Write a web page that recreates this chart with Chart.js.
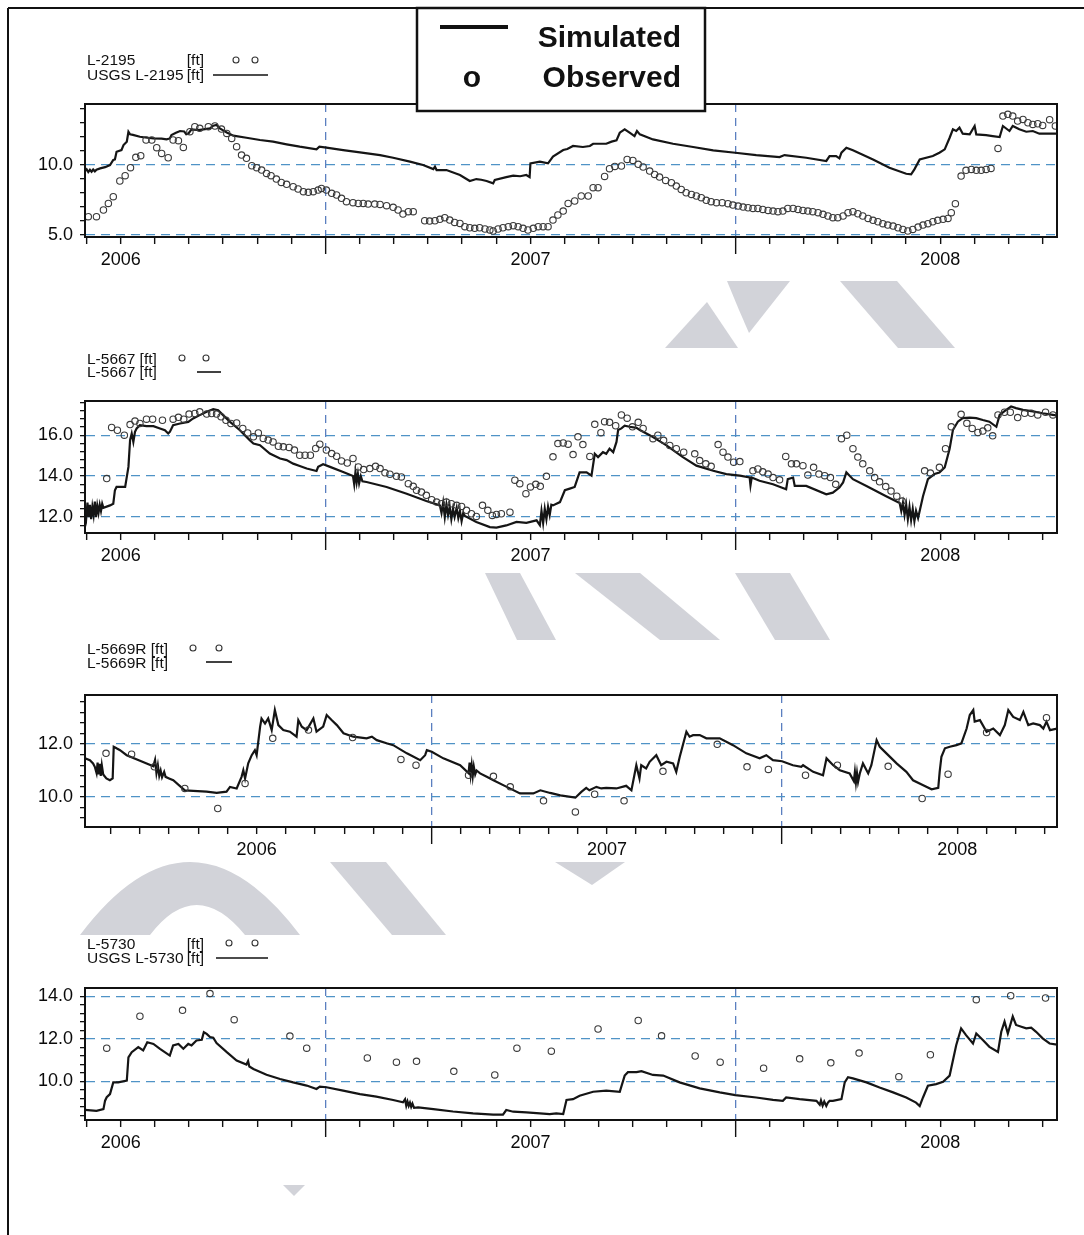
<!DOCTYPE html>
<html>
<head>
<meta charset="utf-8">
<title>Groundwater levels 2006-2008</title>
<script src="https://cdn.jsdelivr.net/npm/chart.js@4.4.0/dist/chart.umd.min.js"></script>
<style>
  html, body { margin: 0; padding: 0; background: #fff; }
  #page { position: relative; width: 1084px; height: 1235px; overflow: hidden; background: #fff; }
  #page canvas { position: absolute; left: 0; z-index: 1; }
  #back { position: absolute; left: 0; top: 0; z-index: 0; }
  #front { position: absolute; left: 0; top: 0; z-index: 3; pointer-events: none; }
  svg text { font-family: 'Liberation Sans', Arial, sans-serif; fill: #111; }
</style>
</head>
<body>
<div id="page">
  <svg id="back" width="1084" height="1235">
    <g fill="#d2d3d9">
      <polygon points="727,281 790,281 749,333 739,310"/>
      <polygon points="707,302 738,348 665,348"/>
      <polygon points="840,281 897,281 955,348 898,348"/>
      <polygon points="485,573 520,573 556,640 517,640"/>
      <polygon points="575,573 640,573 720,640 660,640"/>
      <polygon points="735,573 790,573 830,640 775,640"/>
      <path d="M80,935 Q190,789 300,935 L245,935 Q196,875 150,935 Z"/>
      <polygon points="330,862 386,862 446,935 392,935"/>
      <polygon points="555,862 625,862 592,885"/>
      <polygon points="283,1185 305,1185 294,1196"/>
    </g>
  </svg>

  <canvas id="p1" width="1084" height="193" style="top:94px"></canvas>
  <canvas id="p2" width="1084" height="192" style="top:391px"></canvas>
  <canvas id="p3" width="1084" height="192" style="top:685px"></canvas>
  <canvas id="p4" width="1084" height="192" style="top:978px"></canvas>

  <svg id="front" width="1084" height="1235">
    <!-- sheet frame -->
    <line x1="8" y1="8" x2="1084" y2="8" stroke="#111" stroke-width="2"/>
    <line x1="8" y1="8" x2="8" y2="1235" stroke="#111" stroke-width="2"/>

    <!-- key box -->
    <rect x="417" y="8" width="288" height="103" fill="#fff" stroke="#111" stroke-width="2.5"/>
    <line x1="440" y1="27" x2="508" y2="27" stroke="#111" stroke-width="4"/>
    <text x="681" y="47" font-size="30" font-weight="bold" text-anchor="end">Simulated</text>
    <text x="472" y="87" font-size="30" font-weight="bold" text-anchor="middle">o</text>
    <text x="681" y="87" font-size="30" font-weight="bold" text-anchor="end">Observed</text>

    <!-- per-well keys -->
    <g font-size="15.5">
      <text x="87" y="65">L-2195</text><text x="204" y="65" text-anchor="end">[ft]</text>
      <text x="87" y="79.5">USGS L-2195</text><text x="204" y="79.5" text-anchor="end">[ft]</text>
      <text x="87" y="363.5">L-5667 [ft]</text>
      <text x="87" y="377">L-5667 [ft]</text>
      <text x="87" y="653.5">L-5669R [ft]</text>
      <text x="87" y="667.5">L-5669R [ft]</text>
      <text x="87" y="948.5">L-5730</text><text x="204" y="948.5" text-anchor="end">[ft]</text>
      <text x="87" y="962.5">USGS L-5730</text><text x="204" y="962.5" text-anchor="end">[ft]</text>
    </g>
    <g fill="none" stroke="#333" stroke-width="1.1">
      <circle cx="236" cy="60" r="3"/><circle cx="255" cy="60" r="3"/>
      <circle cx="182" cy="358" r="3"/><circle cx="206" cy="358" r="3"/>
      <circle cx="193" cy="648" r="3"/><circle cx="219" cy="648" r="3"/>
      <circle cx="229" cy="943" r="3"/><circle cx="255" cy="943" r="3"/>
    </g>
    <g stroke="#111" stroke-width="1.6">
      <line x1="213" y1="75" x2="268" y2="75"/>
      <line x1="197" y1="372" x2="221" y2="372"/>
      <line x1="206" y1="662" x2="232" y2="662"/>
      <line x1="216" y1="958" x2="268" y2="958"/>
    </g>
  </svg>
</div>

<script>
// Year labels shown under the mid-year tick of each year
const yearLabels = ['2006', '2007', '2008'];

// ---- L-2195 (time in decimal years, level in ft) ----
const L2195_yLabels = [5, 10];
const L2195_sim = [
  [2006.413,9.57],[2006.417,9.70],[2006.421,9.50],[2006.425,9.66],[2006.429,9.52],[2006.433,9.68],[2006.437,9.55],[2006.441,9.67],
  [2006.450,9.76],[2006.462,9.85],[2006.474,10.0],[2006.482,10.36],[2006.486,10.40],[2006.490,10.95],[2006.502,11.07],[2006.507,11.43],
  [2006.515,11.67],[2006.519,12.38],[2006.523,12.19],[2006.530,12.15],[2006.547,12.02],[2006.565,11.95],[2006.580,11.90],[2006.600,11.88],
  [2006.612,11.83],[2006.620,11.90],[2006.624,12.14],[2006.635,12.30],[2006.645,12.43],[2006.655,12.40],[2006.660,12.20],[2006.665,12.24],
  [2006.673,12.55],[2006.690,12.50],[2006.702,12.55],[2006.718,12.62],[2006.726,12.81],[2006.734,12.86],[2006.742,12.62],[2006.759,12.33],
  [2006.775,12.10],[2006.807,11.95],[2006.840,11.79],[2006.872,11.67],[2006.905,11.48],[2006.937,11.31],[2006.978,11.12],[2006.985,11.31],
  [2007.002,11.24],[2007.043,11.07],[2007.084,10.90],[2007.133,10.71],[2007.165,10.52],[2007.206,10.24],[2007.238,10.0],[2007.263,9.71],
  [2007.267,9.88],[2007.271,9.64],[2007.295,9.64],[2007.328,9.29],[2007.352,8.86],[2007.368,9.00],[2007.380,8.95],[2007.393,8.86],
  [2007.409,8.69],[2007.413,8.93],[2007.441,9.14],[2007.458,9.24],[2007.475,9.20],[2007.490,9.29],[2007.498,9.14],[2007.500,10.12],
  [2007.523,10.24],[2007.543,10.12],[2007.555,10.60],[2007.580,11.07],[2007.590,11.15],[2007.604,11.36],[2007.628,11.29],[2007.645,11.36],
  [2007.653,11.52],[2007.685,11.52],[2007.698,11.67],[2007.710,11.76],[2007.718,12.31],[2007.730,12.55],[2007.742,12.31],[2007.754,12.07],
  [2007.760,12.43],[2007.767,12.19],[2007.799,11.83],[2007.848,11.52],[2007.897,11.29],[2007.946,11.05],[2008.000,10.88],[2008.051,10.71],
  [2008.108,10.57],[2008.120,10.71],[2008.173,10.52],[2008.222,10.29],[2008.230,10.64],[2008.246,10.64],[2008.254,10.48],[2008.259,10.88],
  [2008.271,11.24],[2008.287,11.05],[2008.336,10.40],[2008.376,9.81],[2008.417,9.38],[2008.429,9.33],[2008.437,9.69],[2008.450,10.40],
  [2008.482,10.64],[2008.498,10.88],[2008.511,11.12],[2008.523,11.95],[2008.531,12.55],[2008.539,12.43],[2008.547,12.67],[2008.555,12.24],
  [2008.572,12.19],[2008.584,12.79],[2008.588,12.19],[2008.612,12.14],[2008.628,12.07],[2008.645,12.00],[2008.653,12.79],[2008.669,12.43],
  [2008.677,12.79],[2008.693,12.55],[2008.710,12.38],[2008.726,12.43],[2008.742,12.24],[2008.785,12.24]
];
const L2195_obs = [
  [2006.421,6.31],[2006.441,6.31],[2006.458,6.79],[2006.470,7.26],[2006.482,7.74],[2006.498,8.86],[2006.511,9.24],[2006.524,9.81],
  [2006.537,10.55],[2006.549,10.67],[2006.562,11.79],[2006.576,11.79],[2006.588,11.24],[2006.600,10.83],[2006.616,10.52],[2006.628,11.79],
  [2006.641,11.74],[2006.653,11.26],[2006.669,12.38],[2006.681,12.74],[2006.693,12.62],[2006.714,12.74],[2006.730,12.79],[2006.746,12.57],
  [2006.759,12.26],[2006.771,11.90],[2006.783,11.31],[2006.795,10.71],[2006.807,10.48],[2006.820,9.95],[2006.832,9.81],[2006.844,9.64],
  [2006.856,9.40],[2006.867,9.24],[2006.880,9.00],[2006.892,8.76],[2006.905,8.62],[2006.921,8.45],[2006.933,8.29],[2006.946,8.10],
  [2006.958,8.05],[2006.970,8.10],[2006.982,8.21],[2006.990,8.33],[2007.002,8.21],[2007.015,7.98],[2007.027,7.86],[2007.039,7.62],
  [2007.051,7.38],[2007.067,7.31],[2007.080,7.26],[2007.092,7.26],[2007.104,7.21],[2007.120,7.21],[2007.133,7.19],[2007.149,7.10],
  [2007.165,6.98],[2007.177,6.79],[2007.189,6.50],[2007.202,6.67],[2007.214,6.67],[2007.242,6.02],[2007.254,6.00],[2007.267,6.02],
  [2007.279,6.12],[2007.291,6.24],[2007.303,6.07],[2007.315,5.90],[2007.328,5.83],[2007.340,5.60],[2007.352,5.52],[2007.364,5.48],
  [2007.376,5.52],[2007.389,5.43],[2007.401,5.36],[2007.409,5.29],[2007.421,5.43],[2007.433,5.52],[2007.446,5.60],[2007.458,5.67],
  [2007.470,5.60],[2007.482,5.48],[2007.494,5.36],[2007.507,5.48],[2007.519,5.60],[2007.531,5.60],[2007.543,5.60],[2007.555,6.07],
  [2007.567,6.43],[2007.580,6.71],[2007.592,7.26],[2007.608,7.43],[2007.624,7.79],[2007.641,7.79],[2007.653,8.38],[2007.665,8.38],
  [2007.681,9.19],[2007.693,9.74],[2007.706,9.90],[2007.722,9.93],[2007.736,10.40],[2007.750,10.33],[2007.763,10.05],[2007.775,9.86],
  [2007.791,9.57],[2007.803,9.33],[2007.815,9.14],[2007.830,8.90],[2007.844,8.74],[2007.856,8.50],[2007.868,8.26],[2007.880,8.02],
  [2007.893,7.90],[2007.905,7.79],[2007.917,7.67],[2007.929,7.48],[2007.941,7.38],[2007.954,7.31],[2007.968,7.31],[2007.982,7.24],
  [2007.994,7.14],[2008.007,7.07],[2008.019,7.00],[2008.031,6.95],[2008.043,6.90],[2008.055,6.90],[2008.067,6.83],[2008.080,6.76],
  [2008.092,6.71],[2008.104,6.67],[2008.116,6.71],[2008.128,6.90],[2008.141,6.90],[2008.153,6.83],[2008.165,6.76],[2008.177,6.71],
  [2008.189,6.67],[2008.202,6.60],[2008.214,6.48],[2008.226,6.36],[2008.238,6.24],[2008.250,6.24],[2008.263,6.36],[2008.275,6.60],
  [2008.287,6.67],[2008.299,6.52],[2008.311,6.36],[2008.324,6.19],[2008.336,6.05],[2008.348,5.95],[2008.360,5.81],[2008.372,5.71],
  [2008.385,5.64],[2008.397,5.52],[2008.409,5.40],[2008.421,5.29],[2008.433,5.40],[2008.446,5.57],[2008.458,5.71],[2008.470,5.81],
  [2008.482,5.95],[2008.494,6.05],[2008.507,6.12],[2008.519,6.19],[2008.527,6.60],[2008.537,7.24],[2008.551,9.21],[2008.563,9.62],
  [2008.576,9.69],[2008.588,9.62],[2008.600,9.62],[2008.612,9.69],[2008.624,9.76],[2008.641,11.19],[2008.653,13.50],[2008.665,13.62],
  [2008.677,13.50],[2008.689,13.14],[2008.702,13.26],[2008.714,13.02],[2008.726,12.90],[2008.738,12.95],[2008.750,12.83],[2008.767,13.24],
  [2008.781,12.79]
];

// ---- L-5667 ----
const L5667_yLabels = [12, 14, 16];
const L5667_sim = [
  [2006.413,12.3],[2006.416,11.95],[2006.419,12.7],[2006.422,12.0],[2006.425,12.6],[2006.428,11.9],[2006.431,12.5],[2006.434,12.1],
  [2006.437,12.75],[2006.440,12.0],[2006.443,12.55],[2006.446,12.2],[2006.449,12.6],[2006.452,12.3],[2006.455,12.65],[2006.458,12.45],
  [2006.474,12.57],[2006.482,12.65],[2006.486,13.31],[2006.490,13.47],[2006.511,13.47],[2006.515,13.96],[2006.519,14.45],[2006.523,15.76],
  [2006.527,16.08],[2006.531,15.67],[2006.535,16.16],[2006.539,16.33],[2006.547,16.49],[2006.563,16.44],[2006.580,16.44],[2006.596,16.33],
  [2006.608,16.24],[2006.616,16.08],[2006.620,16.16],[2006.628,16.49],[2006.645,16.57],[2006.665,16.65],[2006.677,16.82],[2006.693,16.98],
  [2006.710,17.14],[2006.726,17.27],[2006.738,17.22],[2006.750,16.98],[2006.767,16.65],[2006.791,16.24],[2006.815,15.76],[2006.824,15.59],
  [2006.840,15.51],[2006.864,15.10],[2006.889,14.86],[2006.905,14.78],[2006.921,14.61],[2006.937,14.49],[2006.954,14.37],[2006.978,14.25],
  [2006.982,14.45],[2006.994,14.58],[2007.011,14.45],[2007.043,14.20],[2007.067,14.00],[2007.070,13.60],[2007.073,14.20],[2007.076,13.70],
  [2007.079,14.10],[2007.082,13.65],[2007.086,14.00],[2007.090,13.75],[2007.100,13.71],[2007.149,13.47],[2007.198,13.14],[2007.246,12.78],
  [2007.279,12.57],[2007.283,12.20],[2007.287,12.70],[2007.291,12.00],[2007.295,12.60],[2007.299,12.10],[2007.303,12.50],[2007.307,11.90],
  [2007.311,12.40],[2007.315,12.00],[2007.320,12.45],[2007.324,11.95],[2007.328,12.30],[2007.332,11.80],[2007.336,12.20],[2007.340,12.05],
  [2007.368,11.76],[2007.401,11.51],[2007.417,11.48],[2007.441,11.59],[2007.466,11.76],[2007.490,11.72],[2007.515,11.84],[2007.523,11.60],
  [2007.527,12.30],[2007.531,11.70],[2007.535,12.40],[2007.539,11.90],[2007.543,12.50],[2007.547,12.10],[2007.551,12.60],[2007.555,12.57],
  [2007.572,12.73],[2007.584,13.31],[2007.596,13.39],[2007.608,13.47],[2007.620,14.18],[2007.637,14.18],[2007.649,14.02],[2007.657,15.09],
  [2007.665,14.93],[2007.677,15.17],[2007.685,15.09],[2007.693,15.34],[2007.702,15.17],[2007.710,15.67],[2007.714,16.25],[2007.722,16.33],
  [2007.730,16.46],[2007.742,16.41],[2007.759,16.36],[2007.767,16.25],[2007.791,16.00],[2007.832,15.50],[2007.872,14.93],[2007.905,14.51],
  [2007.946,14.26],[2007.978,14.10],[2008.011,14.02],[2008.035,13.93],[2008.037,13.55],[2008.040,13.93],[2008.059,13.77],[2008.092,13.60],
  [2008.124,13.36],[2008.128,13.85],[2008.141,13.93],[2008.145,13.52],[2008.173,13.52],[2008.222,13.11],[2008.238,13.19],[2008.254,13.44],
  [2008.263,13.69],[2008.271,14.18],[2008.287,13.85],[2008.320,13.52],[2008.368,13.02],[2008.401,12.69],[2008.405,12.30],[2008.409,12.70],
  [2008.413,12.10],[2008.417,12.60],[2008.421,11.90],[2008.425,12.50],[2008.429,11.85],[2008.433,12.40],[2008.437,11.80],[2008.441,12.30],
  [2008.446,11.95],[2008.458,13.02],[2008.470,13.85],[2008.486,14.10],[2008.498,14.18],[2008.511,14.43],[2008.523,15.34],[2008.531,16.25],
  [2008.543,16.66],[2008.555,16.83],[2008.572,16.86],[2008.588,16.83],[2008.604,16.74],[2008.620,16.66],[2008.637,16.41],[2008.645,16.99],
  [2008.661,17.24],[2008.673,17.40],[2008.685,17.32],[2008.702,17.24],[2008.726,17.16],[2008.750,17.07],[2008.775,16.99],[2008.785,16.96]
];
const L5667_obs = [
  [2006.466,13.88],[2006.478,16.38],[2006.492,16.24],[2006.509,16.00],[2006.523,16.52],[2006.535,16.69],[2006.547,16.57],[2006.563,16.78],
  [2006.578,16.78],[2006.602,16.73],[2006.628,16.78],[2006.641,16.87],[2006.654,16.78],[2006.667,17.03],[2006.681,17.06],[2006.693,17.14],
  [2006.710,17.03],[2006.722,17.06],[2006.734,17.03],[2006.745,16.90],[2006.757,16.73],[2006.769,16.57],[2006.783,16.60],[2006.798,16.33],
  [2006.810,16.11],[2006.824,15.92],[2006.836,16.11],[2006.848,15.84],[2006.860,15.76],[2006.872,15.67],[2006.885,15.46],[2006.897,15.43],
  [2006.911,15.40],[2006.924,15.27],[2006.937,15.02],[2006.950,15.02],[2006.963,15.02],[2006.976,15.35],[2006.986,15.56],[2007.002,15.27],
  [2007.015,15.10],[2007.027,14.97],[2007.039,14.74],[2007.053,14.64],[2007.067,14.86],[2007.080,14.45],[2007.093,14.32],[2007.108,14.37],
  [2007.122,14.48],[2007.133,14.37],[2007.145,14.16],[2007.157,14.09],[2007.173,13.99],[2007.185,13.96],[2007.202,13.63],[2007.214,13.50],
  [2007.222,13.31],[2007.234,13.22],[2007.246,13.06],[2007.259,12.85],[2007.271,12.73],[2007.283,12.65],[2007.295,12.73],[2007.307,12.65],
  [2007.320,12.57],[2007.332,12.52],[2007.344,12.33],[2007.356,12.16],[2007.368,12.03],[2007.383,12.57],[2007.396,12.33],[2007.407,12.08],
  [2007.417,12.13],[2007.429,12.16],[2007.450,12.24],[2007.462,13.80],[2007.474,13.63],[2007.489,13.14],[2007.500,13.47],[2007.513,13.60],
  [2007.524,13.50],[2007.539,13.99],[2007.555,14.94],[2007.567,15.59],[2007.580,15.62],[2007.592,15.56],[2007.604,15.05],[2007.616,15.92],
  [2007.628,15.54],[2007.645,14.96],[2007.657,16.53],[2007.672,16.12],[2007.681,16.66],[2007.693,16.63],[2007.708,16.46],[2007.722,16.99],
  [2007.736,16.83],[2007.749,16.41],[2007.763,16.63],[2007.775,16.33],[2007.799,15.83],[2007.811,16.00],[2007.825,15.75],[2007.840,15.50],
  [2007.856,15.34],[2007.874,15.17],[2007.901,15.09],[2007.913,14.76],[2007.928,14.60],[2007.941,14.48],[2007.958,15.54],[2007.970,15.17],
  [2007.982,14.93],[2007.996,14.68],[2008.011,14.71],[2008.043,14.26],[2008.055,14.35],[2008.067,14.21],[2008.080,14.10],[2008.092,13.93],
  [2008.108,13.82],[2008.123,14.96],[2008.137,14.60],[2008.149,14.60],[2008.165,14.51],[2008.177,14.05],[2008.191,14.43],[2008.204,14.10],
  [2008.218,14.02],[2008.232,13.93],[2008.245,13.60],[2008.259,15.83],[2008.272,16.00],[2008.287,15.34],[2008.299,14.93],[2008.311,14.60],
  [2008.328,14.26],[2008.340,13.93],[2008.352,13.72],[2008.367,13.49],[2008.380,13.27],[2008.394,13.02],[2008.407,12.78],[2008.462,14.26],
  [2008.476,14.15],[2008.498,14.43],[2008.513,15.34],[2008.527,16.41],[2008.551,17.02],[2008.565,16.58],[2008.578,16.33],[2008.592,16.13],
  [2008.604,16.20],[2008.616,16.36],[2008.628,15.97],[2008.641,16.99],[2008.657,17.12],[2008.671,17.12],[2008.689,16.86],[2008.706,17.07],
  [2008.722,17.07],[2008.738,16.99],[2008.757,17.12],[2008.775,16.99]
];

// ---- L-5669R ----
const L5669R_yLabels = [10, 12];
const L5669R_sim = [
  [2006.010,11.46],[2006.024,11.39],[2006.033,11.27],[2006.038,11.14],[2006.043,10.90],[2006.046,11.30],[2006.049,10.85],[2006.052,11.25],
  [2006.055,10.80],[2006.058,11.20],[2006.062,10.85],[2006.071,10.70],[2006.081,10.63],[2006.089,10.70],[2006.092,11.90],[2006.100,11.84],
  [2006.110,11.77],[2006.129,11.58],[2006.167,11.37],[2006.205,11.16],[2006.210,11.40],[2006.214,10.90],[2006.218,11.20],[2006.222,10.80],
  [2006.226,11.00],[2006.230,10.75],[2006.236,10.95],[2006.240,10.76],[2006.250,10.70],[2006.262,10.63],[2006.295,10.25],[2006.319,10.23],
  [2006.357,10.20],[2006.386,10.15],[2006.414,10.20],[2006.424,10.38],[2006.443,10.32],[2006.457,10.76],[2006.462,11.01],[2006.467,10.70],
  [2006.476,11.27],[2006.486,11.58],[2006.495,11.77],[2006.500,11.58],[2006.510,12.66],[2006.514,12.97],[2006.524,12.78],[2006.533,12.97],
  [2006.543,12.53],[2006.552,13.29],[2006.562,12.72],[2006.576,12.53],[2006.595,12.47],[2006.614,12.28],[2006.619,12.91],[2006.629,12.66],
  [2006.643,12.53],[2006.662,12.97],[2006.671,12.47],[2006.690,12.66],[2006.700,13.10],[2006.714,12.91],[2006.729,12.72],[2006.748,12.41],
  [2006.776,12.28],[2006.814,12.22],[2006.829,12.28],[2006.843,12.15],[2006.871,12.03],[2006.890,11.96],[2006.929,11.65],[2006.967,11.39],
  [2006.981,11.58],[2006.986,11.77],[2007.000,11.71],[2007.033,11.46],[2007.081,11.20],[2007.105,10.90],[2007.108,11.30],[2007.111,10.85],
  [2007.114,11.20],[2007.117,10.80],[2007.120,11.15],[2007.124,10.85],[2007.128,11.00],[2007.138,10.89],[2007.157,10.76],[2007.176,10.63],
  [2007.214,10.38],[2007.252,10.13],[2007.290,10.13],[2007.310,10.25],[2007.338,10.15],[2007.367,10.06],[2007.410,9.97],[2007.427,10.19],
  [2007.441,10.34],[2007.450,10.25],[2007.470,10.38],[2007.484,10.32],[2007.498,10.34],[2007.527,10.32],[2007.555,10.42],[2007.570,10.25],
  [2007.584,11.20],[2007.593,10.70],[2007.598,11.20],[2007.612,11.08],[2007.622,11.33],[2007.641,11.58],[2007.655,11.20],[2007.670,11.33],
  [2007.689,11.27],[2007.698,10.95],[2007.708,11.52],[2007.727,12.47],[2007.736,12.28],[2007.746,12.34],[2007.765,12.34],[2007.784,12.22],
  [2007.822,12.22],[2007.860,11.96],[2007.898,11.65],[2007.936,11.46],[2007.955,11.58],[2007.974,11.39],[2008.000,11.35],[2008.031,11.20],
  [2008.055,11.14],[2008.060,11.20],[2008.089,10.95],[2008.117,10.82],[2008.127,11.46],[2008.146,11.20],[2008.165,11.01],[2008.193,10.89],
  [2008.205,10.60],[2008.208,10.95],[2008.211,10.55],[2008.214,10.90],[2008.217,10.57],[2008.222,10.89],[2008.231,11.27],[2008.246,10.89],
  [2008.255,11.20],[2008.270,12.15],[2008.279,11.90],[2008.298,11.65],[2008.327,11.27],[2008.355,10.95],[2008.374,10.63],[2008.403,10.44],
  [2008.427,10.29],[2008.446,10.34],[2008.450,10.95],[2008.455,11.52],[2008.465,11.84],[2008.479,11.90],[2008.498,11.96],[2008.512,12.03],
  [2008.527,12.59],[2008.536,13.10],[2008.546,13.29],[2008.550,12.85],[2008.565,12.91],[2008.584,12.47],[2008.603,12.59],[2008.622,12.34],
  [2008.636,12.72],[2008.646,13.29],[2008.660,13.03],[2008.679,12.91],[2008.689,13.22],[2008.703,12.72],[2008.717,12.78],[2008.736,12.72],
  [2008.746,12.59],[2008.755,12.85],[2008.765,12.53],[2008.785,12.59]
];
const L5669R_obs = [
  [2006.070,11.65],[2006.143,11.62],[2006.208,11.14],[2006.295,10.32],[2006.389,9.56],[2006.467,10.51],[2006.546,12.22],[2006.648,12.53],
  [2006.774,12.25],[2006.912,11.42],[2006.955,11.20],[2007.105,10.82],[2007.176,10.78],[2007.224,10.38],[2007.319,9.85],[2007.410,9.43],
  [2007.465,10.10],[2007.549,9.85],[2007.660,10.97],[2007.815,11.99],[2007.900,11.14],[2007.961,11.04],[2008.067,10.82],[2008.158,11.20],
  [2008.303,11.16],[2008.400,9.94],[2008.474,10.86],[2008.584,12.44],[2008.755,13.00]
];

// ---- L-5730 ----
const L5730_yLabels = [10, 12, 14];
const L5730_sim = [
  [2006.413,8.66],[2006.441,8.61],[2006.458,8.69],[2006.462,9.09],[2006.466,9.25],[2006.474,9.40],[2006.482,9.95],[2006.494,9.95],
  [2006.515,10.03],[2006.519,11.13],[2006.527,11.37],[2006.543,11.61],[2006.555,11.45],[2006.565,11.84],[2006.580,11.76],[2006.596,11.53],
  [2006.620,11.21],[2006.628,11.69],[2006.641,11.76],[2006.653,11.53],[2006.665,11.76],[2006.673,11.69],[2006.685,11.92],[2006.698,11.95],
  [2006.703,12.31],[2006.710,12.23],[2006.718,12.08],[2006.726,12.05],[2006.734,11.80],[2006.759,11.37],[2006.783,10.98],[2006.807,10.79],
  [2006.811,10.95],[2006.814,10.70],[2006.824,10.58],[2006.856,10.31],[2006.889,10.11],[2006.921,9.95],[2006.954,9.80],[2006.978,9.64],
  [2006.986,9.75],[2007.002,9.72],[2007.043,9.56],[2007.084,9.40],[2007.124,9.28],[2007.165,9.12],[2007.189,9.01],[2007.194,9.15],
  [2007.197,8.85],[2007.200,9.05],[2007.203,8.85],[2007.206,9.00],[2007.209,8.80],[2007.212,8.95],[2007.216,8.75],[2007.226,8.77],
  [2007.263,8.69],[2007.311,8.58],[2007.360,8.49],[2007.409,8.43],[2007.433,8.43],[2007.441,8.65],[2007.458,8.57],[2007.490,8.54],
  [2007.523,8.49],[2007.547,8.46],[2007.563,8.49],[2007.580,8.46],[2007.588,9.12],[2007.604,9.16],[2007.620,9.32],[2007.653,9.51],
  [2007.685,9.56],[2007.718,9.51],[2007.730,10.27],[2007.738,10.43],[2007.759,10.43],[2007.771,10.48],[2007.799,10.30],[2007.824,10.27],
  [2007.864,9.95],[2007.913,9.67],[2007.962,9.48],[2008.000,9.35],[2008.051,9.24],[2008.092,9.13],[2008.116,9.08],[2008.124,9.24],
  [2008.157,9.16],[2008.198,9.08],[2008.206,8.90],[2008.209,9.10],[2008.213,8.85],[2008.217,9.05],[2008.222,8.84],[2008.226,9.00],
  [2008.230,9.08],[2008.238,9.08],[2008.259,9.16],[2008.267,9.95],[2008.275,10.19],[2008.287,10.14],[2008.320,9.95],[2008.352,9.71],
  [2008.385,9.48],[2008.417,9.24],[2008.441,9.00],[2008.450,8.84],[2008.458,9.24],[2008.470,9.79],[2008.490,9.87],[2008.507,9.98],
  [2008.523,10.27],[2008.539,11.70],[2008.551,12.49],[2008.563,12.17],[2008.580,11.78],[2008.588,12.25],[2008.604,11.94],[2008.620,11.62],
  [2008.641,11.38],[2008.649,12.33],[2008.657,12.81],[2008.665,12.25],[2008.677,13.05],[2008.685,12.65],[2008.698,12.57],[2008.710,12.49],
  [2008.722,12.52],[2008.734,12.33],[2008.750,12.02],[2008.767,11.78],[2008.785,11.73]
];
const L5730_obs = [
  [2006.466,11.56],[2006.547,13.06],[2006.651,13.34],[2006.718,14.13],[2006.777,12.90],[2006.913,12.13],[2006.954,11.56],[2007.102,11.10],
  [2007.173,10.90],[2007.222,10.94],[2007.313,10.47],[2007.413,10.30],[2007.467,11.56],[2007.551,11.42],[2007.665,12.46],[2007.763,12.86],
  [2007.820,12.14],[2007.902,11.19],[2007.963,10.90],[2008.069,10.62],[2008.157,11.06],[2008.233,10.87],[2008.302,11.33],[2008.399,10.22],
  [2008.476,11.25],[2008.588,13.84],[2008.672,14.03],[2008.757,13.92]
];

// ---- drawing ----
const FONT = "'Liberation Sans', Arial, sans-serif";
const H_GRID = '#4f93c6';
const V_GRID = '#5b7fc0';
const NONE = 'rgba(0,0,0,0)';

const toXY = arr => arr.map(p => ({ x: p[0], y: p[1] }));
const isYearStart = v => Math.abs(v - Math.round(v)) < 1e-6;

function monthTicks(min, max) {
  const out = [];
  for (let yr = Math.floor(min); yr <= Math.ceil(max); yr++) {
    for (let m = 0; m < 12; m++) {
      const v = yr + m / 12;
      if (v >= min - 1e-9 && v <= max + 1e-9) out.push(v);
    }
  }
  return out;
}
function stepTicks(min, max, base, step) {
  const out = [];
  const k0 = Math.ceil((min - base) / step - 1e-9);
  const k1 = Math.floor((max - base) / step + 1e-9);
  for (let k = k0; k <= k1; k++) out.push(+(base + k * step).toFixed(4));
  return out;
}
function yearLabel(v) {
  const yr = Math.floor(v + 1e-6);
  const m = Math.round((v - yr) * 12);
  if (m !== 6) return '';
  const i = yr - 2006;
  return yearLabels[i] !== undefined ? yearLabels[i] : '';
}

// box round the plot area
const plotFrame = {
  id: 'plotFrame',
  afterDatasetsDraw(chart) {
    const { ctx, chartArea: a } = chart;
    ctx.save();
    ctx.strokeStyle = '#111';
    ctx.lineWidth = 2;
    ctx.strokeRect(a.left, a.top, a.right - a.left, a.bottom - a.top);
    ctx.restore();
  }
};

function buildPanel(p) {
  const xT = monthTicks(p.xMin, p.xMax);
  const yT = stepTicks(p.yMin, p.yMax, p.yBase, p.yStep);
  const labelled = v => p.yLabels.some(l => Math.abs(l - v) < 1e-6);

  new Chart(document.getElementById(p.canvas), {
    type: 'scatter',
    data: {
      datasets: [
        {
          label: p.simName,
          data: toXY(p.sim),
          showLine: true,
          borderColor: '#151515',
          borderWidth: 2.2,
          pointRadius: 0,
          tension: 0,
          order: 2
        },
        {
          label: p.obsName,
          data: toXY(p.obs),
          showLine: false,
          pointRadius: 3.2,
          pointBorderWidth: 1.1,
          pointBorderColor: '#3a3a3a',
          pointBackgroundColor: NONE,
          borderColor: '#3a3a3a',
          backgroundColor: NONE,
          order: 1
        }
      ]
    },
    options: {
      responsive: false,
      animation: false,
      events: [],
      layout: { padding: { top: 10, right: 27, left: 0, bottom: 0 } },
      plugins: { legend: { display: false }, tooltip: { enabled: false } },
      scales: {
        x: {
          type: 'linear',
          min: p.xMin,
          max: p.xMax,
          afterBuildTicks: s => { s.ticks = xT.map(v => ({ value: v })); },
          afterFit: s => { s.height = 50; s.paddingLeft = 0; s.paddingRight = 0; },
          ticks: {
            autoSkip: false, maxRotation: 0, minRotation: 0,
            padding: -5, color: '#0a0a0a',
            font: { family: FONT, size: 18 },
            callback: v => yearLabel(v)
          },
          grid: {
            color: c => (c.tick && isYearStart(c.tick.value)) ? V_GRID : NONE,
            lineWidth: 1.3,
            tickLength: 17,
            tickColor: '#111',
            tickWidth: 1.4,
            tickBorderDash: c => (c.tick && isYearStart(c.tick.value)) ? [] : [6, 40]
          },
          border: { color: '#111', width: 2, dash: [8, 6] }
        },
        y: {
          type: 'linear',
          min: p.yMin,
          max: p.yMax,
          afterBuildTicks: s => { s.ticks = yT.map(v => ({ value: v })); },
          afterFit: s => { s.width = 85; s.paddingTop = 0; s.paddingBottom = 0; },
          ticks: {
            autoSkip: false, padding: 7, color: '#0a0a0a',
            font: { family: FONT, size: 18 },
            callback: v => labelled(v) ? Number(v).toFixed(1) : ''
          },
          grid: {
            color: c => (c.tick && labelled(c.tick.value)) ? H_GRID : NONE,
            lineWidth: 1.3,
            tickLength: 5,
            tickColor: '#111',
            tickWidth: 1.3
          },
          border: { color: '#111', width: 2, dash: [9, 6] }
        }
      }
    },
    plugins: [plotFrame]
  });
}

const panels = [
  { canvas: 'p1', simName: 'USGS L-2195', obsName: 'L-2195', sim: L2195_sim, obs: L2195_obs,
    xMin: 2006.413, xMax: 2008.785, yMin: 4.86, yMax: 14.36, yBase: 10, yStep: 1, yLabels: L2195_yLabels },
  { canvas: 'p2', simName: 'L-5667', obsName: 'L-5667', sim: L5667_sim, obs: L5667_obs,
    xMin: 2006.413, xMax: 2008.785, yMin: 11.22, yMax: 17.67, yBase: 12, yStep: 0.4, yLabels: L5667_yLabels },
  { canvas: 'p3', simName: 'L-5669R', obsName: 'L-5669R', sim: L5669R_sim, obs: L5669R_obs,
    xMin: 2006.010, xMax: 2008.785, yMin: 8.86, yMax: 13.86, yBase: 10, yStep: 0.4, yLabels: L5669R_yLabels },
  { canvas: 'p4', simName: 'USGS L-5730', obsName: 'L-5730', sim: L5730_sim, obs: L5730_obs,
    xMin: 2006.413, xMax: 2008.785, yMin: 8.18, yMax: 14.39, yBase: 10, yStep: 0.4, yLabels: L5730_yLabels }
];
panels.forEach(buildPanel);
</script>
</body>
</html>
